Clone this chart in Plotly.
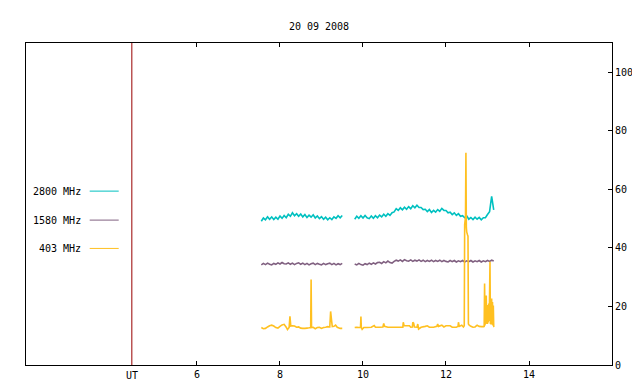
import numpy as np
import plotly.graph_objects as go

title_text = "20 09 2008"
series_names = ["2800 MHz", "1580 MHz", "403 MHz"]
series_colors = ["#00c0c0", "#806080", "#ffc020"]
marker_time = 4.43            # red vertical marker (UT)
x_ticks = [6, 8, 10, 12, 14]
y_ticks = [0, 20, 40, 60, 80, 100]

# regular sampling grid for 2800 / 1580 MHz (hours UT)
grid_start, grid_step, grid_n = 7.55, 0.05, 113
gap_len = 5

cyan_seg1 = [49.1, 50.2, 49.6, 50.6, 49.8, 50.6, 49.7, 50.5, 49.8, 50.9,
             50.1, 51.1, 50.3, 51.5, 50.8, 52.0, 51.0, 51.7, 50.8, 51.6,
             50.6, 51.4, 50.4, 51.2, 50.5, 51.3, 50.2, 50.9, 50.0, 50.7,
             49.8, 50.5, 49.6, 50.3, 49.7, 50.6, 50.1, 51.0, 50.3, 51.1]
cyan_seg2 = [49.8, 50.8, 50.1, 51.0, 50.2, 51.1, 50.3, 50.0, 50.9, 50.1,
             51.0, 50.3, 51.2, 50.6, 51.5, 50.8, 51.7, 51.1, 52.0, 52.3,
             53.4, 52.8, 53.7, 53.0, 53.9, 53.2, 54.1, 53.4, 54.4, 53.7,
             54.6, 53.8, 53.8, 53.1, 53.2, 52.4, 53.1, 52.1, 52.8, 52.2,
             53.1, 52.5, 53.5, 52.8, 52.8, 52.0, 52.2, 51.4, 52.0, 51.1,
             51.7, 50.8, 51.0, 50.3, 50.9, 49.8, 50.4, 49.7, 50.5, 49.8,
             50.4, 49.6, 50.3, 50.3, 51.4, 52.4, 57.6, 53.0]

purple_seg1 = [34.2, 34.7, 34.3, 34.8, 34.4, 34.2, 34.7, 34.4, 34.9, 34.5,
               35.0, 34.6, 34.5, 34.9, 34.4, 34.8, 34.3, 34.7, 34.9, 34.4,
               34.8, 34.3, 34.7, 34.2, 34.6, 34.8, 34.3, 34.7, 34.4, 34.2,
               34.7, 34.3, 34.6, 34.8, 34.3, 34.7, 34.2, 34.6, 34.3, 34.7]
purple_seg2 = [34.5, 34.2, 34.7, 34.3, 34.1, 34.6, 34.3, 34.8, 34.4, 34.9,
               34.5, 35.0, 35.1, 34.7, 35.3, 34.9, 35.5, 35.0, 34.8, 35.4,
               35.8, 35.5, 35.9, 35.4, 36.0, 35.6, 35.5, 35.9, 35.4, 35.8,
               35.5, 35.9, 35.4, 35.8, 35.3, 35.7, 35.4, 35.8, 35.3, 35.7,
               35.4, 35.8, 35.3, 35.7, 35.4, 35.2, 35.7, 35.3, 35.7, 35.2,
               35.6, 35.3, 35.7, 35.2, 35.6, 35.3, 35.7, 35.2, 35.6, 35.3,
               35.7, 35.2, 35.6, 35.3, 35.7, 35.4, 35.8, 35.5]

# 403 MHz: irregular (time, value) samples
orange_t = [7.55, 7.60, 7.65, 7.70, 7.75, 7.80, 7.85, 7.90, 7.95, 8.00,
            8.05, 8.10, 8.15, 8.18, 8.22, 8.24, 8.26, 8.30, 8.35, 8.40,
            8.45, 8.50, 8.55, 8.60, 8.65, 8.70, 8.74, 8.75, 8.76, 8.80,
            8.85, 8.90, 8.95, 9.00, 9.05, 9.10, 9.15, 9.20, 9.22, 9.24,
            9.26, 9.30, 9.34, 9.38, 9.45, 9.50,
            9.65,
            9.80, 9.85, 9.90, 9.94, 9.95, 9.96, 9.98, 10.02, 10.10, 10.20,
            10.27, 10.30, 10.40, 10.48, 10.50, 10.52, 10.60, 10.70, 10.80, 10.96,
            10.97, 10.99, 11.05, 11.12, 11.15, 11.19, 11.20, 11.22, 11.24, 11.30,
            11.32, 11.34, 11.40, 11.50, 11.55, 11.60, 11.70, 11.78, 11.80, 11.82,
            11.90, 11.95, 12.00, 12.05, 12.10, 12.15, 12.25, 12.29, 12.30, 12.32,
            12.38, 12.42, 12.44, 12.45, 12.47, 12.48, 12.49, 12.50, 12.52, 12.53,
            12.54, 12.56, 12.60, 12.65, 12.70, 12.75, 12.80, 12.85, 12.90, 12.92,
            12.93, 12.94, 12.95, 12.96, 12.97, 12.98, 12.99, 13.00, 13.01, 13.02,
            13.03, 13.04, 13.05, 13.06, 13.07, 13.08, 13.09, 13.10, 13.11, 13.12,
            13.13, 13.14, 13.15, 13.16]
orange_v = [12.8, 12.4, 12.5, 13.0, 13.4, 13.6, 13.3, 12.8, 12.6, 13.2,
            13.7, 13.9, 12.9, 12.1, 12.8, 16.6, 13.3, 13.4, 13.3, 12.9,
            13.0, 12.6, 12.5, 12.5, 12.6, 12.7, 12.8, 29.2, 12.8, 12.9,
            12.4, 12.8, 12.9, 12.5, 12.8, 12.9, 13.1, 13.0, 18.3, 15.6,
            13.1, 13.2, 13.6, 12.9, 12.5, 12.5,
            None,
            12.8, 12.9, 12.8, 12.8, 16.6, 12.8, 12.2, 12.8, 12.8, 12.9,
            13.5, 12.9, 12.9, 13.0, 14.2, 13.2, 12.9, 12.9, 12.9, 12.9,
            14.6, 13.4, 13.4, 13.4, 12.9, 13.0, 14.6, 14.3, 13.0, 12.9,
            14.0, 12.3, 12.9, 13.2, 13.4, 12.9, 12.9, 13.2, 14.0, 13.2,
            13.6, 13.0, 13.4, 13.4, 13.4, 12.9, 12.9, 13.2, 14.6, 13.2,
            13.6, 13.0, 13.4, 48.0, 50.5, 72.5, 47.0, 45.4, 44.4, 44.0,
            14.0, 13.6, 13.2, 12.9, 13.0, 13.6, 13.2, 13.1, 13.2, 13.0,
            27.8, 13.5, 18.0, 14.0, 23.7, 14.5, 19.0, 14.0, 20.5, 14.5,
            21.0, 15.0, 24.0, 35.3, 14.0, 17.0, 13.8, 22.7, 14.5, 21.5,
            13.5, 20.3, 13.2, 13.0]

grid_t = np.round(grid_start + grid_step * np.arange(grid_n), 3)
cyan_v = cyan_seg1 + [None] * gap_len + cyan_seg2
purple_v = purple_seg1 + [None] * gap_len + purple_seg2
assert len(cyan_v) == grid_n and len(purple_v) == grid_n
assert len(orange_t) == len(orange_v)

FONT = "DejaVu Sans Mono"

fig = go.Figure()
fig.add_trace(go.Scatter(x=[marker_time, marker_time], y=[0, 110], mode="lines",
                         line=dict(color="#990000", width=1), hoverinfo="skip"))
for xs, ys, col in [(grid_t, cyan_v, series_colors[0]),
                    (grid_t, purple_v, series_colors[1]),
                    (orange_t, orange_v, series_colors[2])]:
    fig.add_trace(go.Scatter(x=xs, y=ys, mode="lines", connectgaps=False,
                             line=dict(color=col, width=1.6, simplify=False),
                             hoverinfo="skip"))

# legend drawn gnuplot-style: text then sample line
leg_y = [0.540, 0.450, 0.362]
annotations = []
shapes = []
for name, col, yy in zip(series_names, series_colors, leg_y):
    annotations.append(dict(text=name, xref="paper", yref="paper", x=0.0968, y=yy,
                            xanchor="right", yanchor="middle", showarrow=False,
                            font=dict(family=FONT, size=10, color="black")))
    shapes.append(dict(type="line", xref="paper", yref="paper", x0=0.1087, x1=0.1582,
                       y0=yy, y1=yy, line=dict(color=col, width=1)))
annotations.append(dict(text="UT", xref="x", yref="paper", x=marker_time, y=0,
                        xanchor="center", yanchor="top", yshift=-3, showarrow=False,
                        font=dict(family=FONT, size=10, color="black")))

fig.update_layout(
    width=640, height=384,
    margin=dict(l=18, r=36, t=35, b=25),
    paper_bgcolor="white", plot_bgcolor="white",
    showlegend=False,
    title=dict(text=title_text, x=0.5, xref="paper", y=1 - 18 / 384, yref="container",
               xanchor="center", yanchor="middle",
               font=dict(family=FONT, size=10, color="black")),
    annotations=annotations, shapes=shapes,
    xaxis=dict(range=[1.88, 16], tickvals=x_ticks, ticks="inside", ticklen=4,
               tickcolor="black", showline=True, linecolor="black", linewidth=1,
               mirror="ticks", showgrid=False, zeroline=False,
               tickfont=dict(family=FONT, size=10, color="black")),
    yaxis=dict(range=[0, 110], tickvals=y_ticks, side="right", ticks="inside", ticklen=4,
               tickcolor="black", showline=True, linecolor="black", linewidth=1,
               mirror=True, showgrid=False, zeroline=False,
               tickfont=dict(family=FONT, size=10, color="black")),
    hovermode=False,
)

fig.write_html("out.html")
